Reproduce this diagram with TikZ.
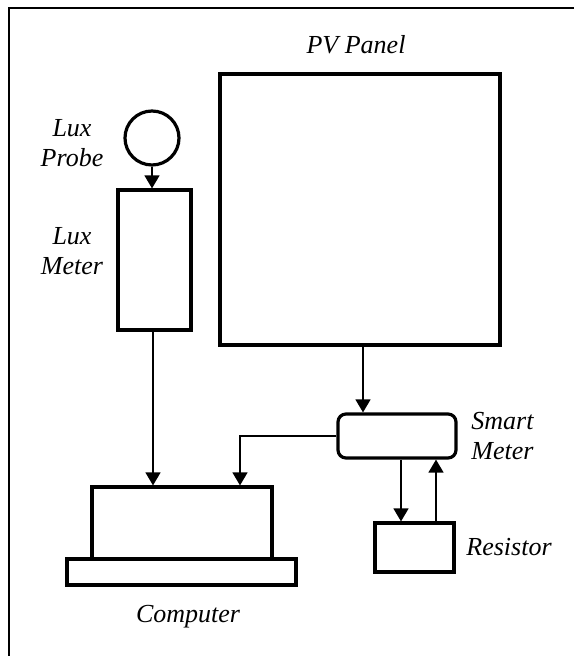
\documentclass[tikz,border=0pt]{standalone}
\usepackage{fontspec}
\setmainfont{Liberation Serif}
\usetikzlibrary{arrows.meta,positioning,calc}
\tikzset{
  every node/.style={font=\fontsize{13}{15}\selectfont\itshape},
  box/.style={draw=black, line width=1.6pt, fill=white, inner sep=0pt},
  roundbox/.style={box, rounded corners=4pt},
  probe/.style={box, circle},
  label/.style={align=center, inner sep=0pt},
  wire/.style={line width=0.7pt, draw=black},
  arrow/.style={-{Triangle[length=6.5pt,width=7.5pt]}, line width=0.7pt, draw=black},
  frame/.style={line width=0.9pt, draw=black},
}
\begin{document}
\begin{tikzpicture}[x=0.5pt, y=-0.5pt]
\useasboundingbox (0,0) rectangle (574,656);
% outer frame (only top and left edges show)
\draw[frame] (574,8) -- (9,8) -- (9,656);
% blocks
\node[box, minimum width=140pt, minimum height=135.5pt] (panel) at (360,209.5) {};
\node[probe, minimum size=27pt] (probe) at (152,138) {};
\node[box, minimum width=36.5pt, minimum height=70pt] (luxmeter) at (154.5,260) {};
\node[box, minimum width=90pt, minimum height=36pt] (computer) at (182,523) {};
\node[box, minimum width=114.5pt, minimum height=13pt] (base) at (181.5,572) {};
\node[roundbox, minimum width=59pt, minimum height=22pt] (smart) at (397,436) {};
\node[box, minimum width=39.5pt, minimum height=24.5pt] (resistor) at (414.5,547.5) {};
% labels
\node[label] (panellbl) at (356,45) {PV Panel};
\node[label] (probelbl) at (72,143) {Lux\\Probe};
\node[label] (meterlbl) at (72,251) {Lux\\Meter};
\node[label, align=left, anchor=west] (smartlbl) at (471,436) {Smart\\Meter};
\node[label] (reslbl) at (509,547) {Resistor};
\node[label] (complbl) at (188,617) {Computer};
% connectors
\draw[arrow] (probe.south) -- (probe.south |- luxmeter.north);
\draw[arrow] ([xshift=-0.75pt]luxmeter.south) -- ([xshift=-0.75pt]luxmeter.south |- computer.north);
\draw[arrow] ([xshift=1.5pt]panel.south) -- ([xshift=1.5pt]panel.south |- smart.north);
\draw[arrow] (smart.west) -| ([xshift=29pt]computer.north);
\draw[arrow] ([xshift=-6.75pt]resistor.north |- smart.south) -- ([xshift=-6.75pt]resistor.north);
\draw[arrow] ([xshift=10.75pt]resistor.north) -- ([xshift=10.75pt]resistor.north |- smart.south);
\end{tikzpicture}
\end{document}
